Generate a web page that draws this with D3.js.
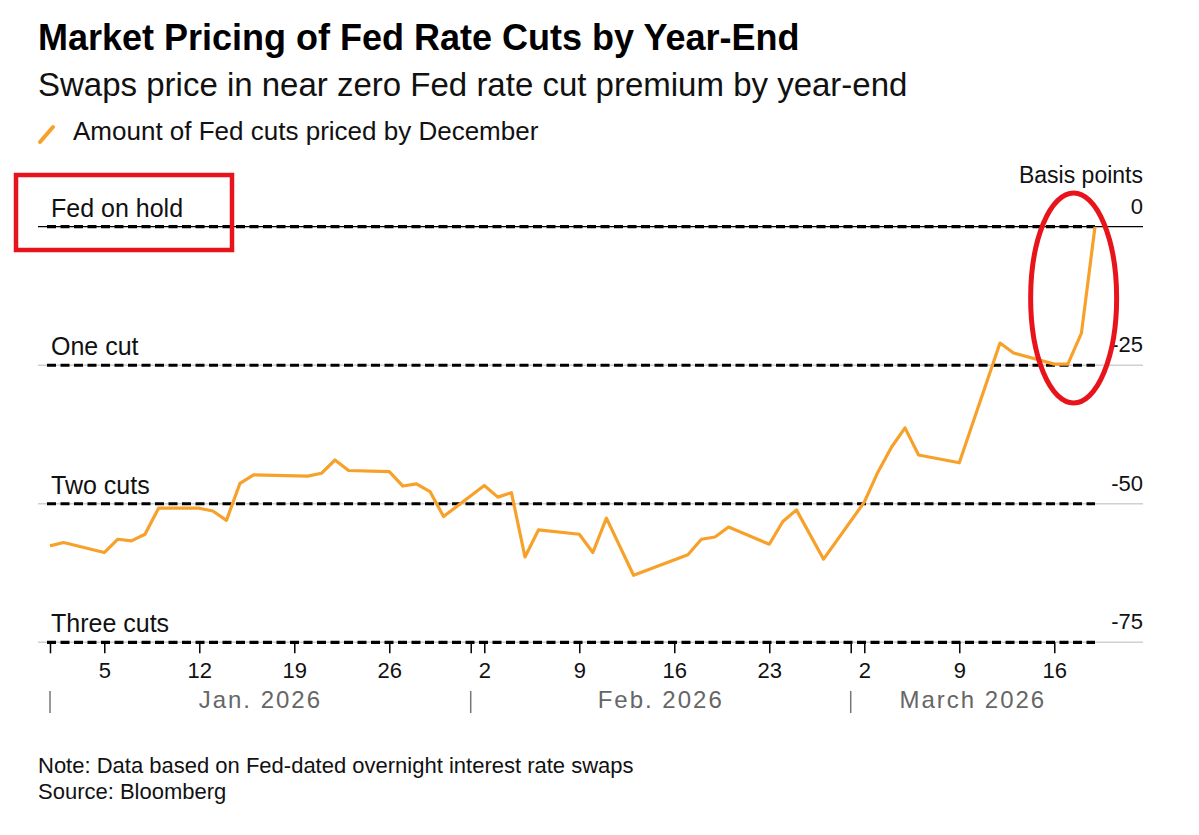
<!DOCTYPE html>
<html>
<head>
<meta charset="utf-8">
<script src="https://cdn.jsdelivr.net/npm/d3@7"></script>
<style>
  body { margin: 0; background: #fff; }
  svg text { font-family: "Liberation Sans", Arial, sans-serif; }
</style>
</head>
<body>
<div id="chart"></div>
<script>
// Swap-implied Fed cuts by December, basis points
const dates = [
  "2026-01-01", "2026-01-02", "2026-01-05", "2026-01-06", "2026-01-07", "2026-01-08", "2026-01-09",
  "2026-01-12", "2026-01-13", "2026-01-14", "2026-01-15", "2026-01-16",
  "2026-01-20", "2026-01-21", "2026-01-22", "2026-01-23",
  "2026-01-26", "2026-01-27", "2026-01-28", "2026-01-29", "2026-01-30",
  "2026-02-02", "2026-02-03", "2026-02-04", "2026-02-05", "2026-02-06",
  "2026-02-09", "2026-02-10", "2026-02-11", "2026-02-13",
  "2026-02-17", "2026-02-18", "2026-02-19", "2026-02-20",
  "2026-02-23", "2026-02-24", "2026-02-25", "2026-02-27",
  "2026-03-02", "2026-03-03", "2026-03-04", "2026-03-05", "2026-03-06",
  "2026-03-09", "2026-03-12", "2026-03-13",
  "2026-03-16", "2026-03-17", "2026-03-18", "2026-03-19"
];
const cutsPriced = [
  -57.6, -57.0, -58.8, -56.4, -56.7, -55.5, -50.8,
  -50.8, -51.3, -53.0, -46.3, -44.8,
  -45.0, -44.5, -42.1, -44.0,
  -44.2, -46.8, -46.4, -47.8, -52.3,
  -46.7, -48.8, -48.0, -59.6, -54.7,
  -55.5, -58.8, -52.6, -62.9,
  -59.2, -56.4, -56.0, -54.2,
  -57.3, -53.2, -51.1, -60.0,
  -49.7, -44.3, -39.8, -36.3, -41.2,
  -42.6, -21.0, -22.8,
  -24.8, -24.8, -19.2, 0
];

// Reference levels
const levelValues = [0, -25, -50, -75];
const levelLabels = ["Fed on hold", "One cut", "Two cuts", "Three cuts"];
const yTickLabels = ["0", "-25", "-50", "-75"];

// Bottom axis
const weekTicks = [
  "2026-01-01", "2026-01-05", "2026-01-12", "2026-01-19", "2026-01-26",
  "2026-02-01", "2026-02-02", "2026-02-09", "2026-02-16", "2026-02-23",
  "2026-03-01", "2026-03-02", "2026-03-09", "2026-03-16"
];
const monthStarts = ["2026-01-01", "2026-02-01", "2026-03-01"];
const monthLabels = ["Jan. 2026", "Feb. 2026", "March 2026"];

const width = 1199, height = 835;
const orange = "#f7a12b";
const red = "#e8141c";
const parse = d3.utcParse("%Y-%m-%d");

const data = dates.map((d, i) => ({ date: parse(d), value: cutsPriced[i] }));
const endDate = data[data.length - 1].date;

const svg = d3.select("#chart").append("svg")
  .attr("width", width)
  .attr("height", height);

const x = d3.scaleUtc()
  .domain([parse(dates[0]), endDate])
  .range([50, 1095]);

const y = d3.scaleLinear()
  .domain([-75, 0])
  .range([642.3, 226.7]);

// Header
svg.append("text")
  .attr("x", 38).attr("y", 50)
  .attr("font-size", 36).attr("font-weight", "bold").attr("fill", "#000")
  .text("Market Pricing of Fed Rate Cuts by Year-End");

svg.append("text")
  .attr("x", 38).attr("y", 96)
  .attr("font-size", 33).attr("fill", "#111")
  .text("Swaps price in near zero Fed rate cut premium by year-end");

svg.append("line")
  .attr("x1", 40).attr("y1", 142).attr("x2", 53).attr("y2", 127)
  .attr("stroke", orange).attr("stroke-width", 4).attr("stroke-linecap", "round");

svg.append("text")
  .attr("x", 73).attr("y", 140)
  .attr("font-size", 26).attr("fill", "#111")
  .text("Amount of Fed cuts priced by December");

// Y label heading
svg.append("text")
  .attr("x", 1143).attr("y", 183)
  .attr("text-anchor", "end").attr("font-size", 23).attr("fill", "#111")
  .text("Basis points");

// Horizontal gridlines
svg.selectAll(".grid")
  .data(levelValues)
  .enter().append("line")
  .attr("class", "grid")
  .attr("x1", 38).attr("x2", 1143)
  .attr("y1", d => y(d)).attr("y2", d => y(d))
  .attr("stroke", d => d === 0 ? "#000" : "#d0d0d0")
  .attr("stroke-width", d => d === 0 ? 1.3 : 1.6);

// Y value labels
svg.selectAll(".ylab")
  .data(levelValues)
  .enter().append("text")
  .attr("class", "ylab")
  .attr("x", 1143)
  .attr("y", d => y(d) - 13)
  .attr("text-anchor", "end").attr("font-size", 22).attr("fill", "#111")
  .text((d, i) => yTickLabels[i]);

// Dashed reference lines
svg.selectAll(".ref")
  .data(levelValues)
  .enter().append("line")
  .attr("class", "ref")
  .attr("x1", x.range()[0] - 3).attr("x2", x(endDate))
  .attr("y1", d => y(d)).attr("y2", d => y(d))
  .attr("stroke", "#000").attr("stroke-width", 3.2)
  .attr("stroke-dasharray", "9,4.5");

svg.selectAll(".reflab")
  .data(levelValues)
  .enter().append("text")
  .attr("class", "reflab")
  .attr("x", 51)
  .attr("y", d => y(d) - 10)
  .attr("font-size", 25).attr("fill", "#111")
  .text((d, i) => levelLabels[i]);

// Bottom axis
const isMonthStart = d => d.getUTCDate() === 1;
const xAxis = d3.axisBottom(x)
  .tickValues(weekTicks.map(parse))
  .tickSize(11)
  .tickFormat(d => isMonthStart(d) ? "" : d3.utcFormat("%-d")(d));

const axisG = svg.append("g")
  .attr("transform", `translate(0,${y(-75)})`)
  .call(xAxis);
axisG.select(".domain").remove();
axisG.selectAll(".tick line").attr("stroke", "#000").attr("stroke-width", 1.5);
axisG.selectAll(".tick text")
  .attr("y", 36).attr("dy", null)
  .attr("font-size", 22).attr("fill", "#111")
  .attr("font-family", "'Liberation Sans', Arial, sans-serif");

// Month separators and labels
const monthDates = monthStarts.map(parse);
svg.selectAll(".msep")
  .data(monthDates)
  .enter().append("line")
  .attr("class", "msep")
  .attr("x1", d => x(d)).attr("x2", d => x(d))
  .attr("y1", 691).attr("y2", 713)
  .attr("stroke", "#777").attr("stroke-width", 1.5);

svg.selectAll(".mlab")
  .data(monthDates)
  .enter().append("text")
  .attr("class", "mlab")
  .attr("x", (d, i) => {
    const next = i < monthDates.length - 1 ? monthDates[i + 1] : endDate;
    return (x(d) + x(next)) / 2;
  })
  .attr("y", 708)
  .attr("text-anchor", "middle")
  .attr("font-size", 24).attr("letter-spacing", 2).attr("fill", "#666")
  .text((d, i) => monthLabels[i]);

// Line series
const line = d3.line()
  .x(d => x(d.date))
  .y(d => y(d.value));

svg.append("path")
  .datum(data)
  .attr("fill", "none")
  .attr("stroke", orange)
  .attr("stroke-width", 3.2)
  .attr("stroke-linejoin", "round")
  .attr("d", line);

// Footer
svg.append("text")
  .attr("x", 38).attr("y", 773)
  .attr("font-size", 22).attr("fill", "#111")
  .text("Note: Data based on Fed-dated overnight interest rate swaps");

svg.append("text")
  .attr("x", 38).attr("y", 799)
  .attr("font-size", 22).attr("fill", "#111")
  .text("Source: Bloomberg");

// Red highlight annotations
svg.append("rect")
  .attr("x", 16).attr("y", 175)
  .attr("width", 216).attr("height", 75)
  .attr("fill", "none").attr("stroke", red).attr("stroke-width", 4.5);

const lastWeek = data.slice(-4);
const ex = d3.mean(lastWeek, d => x(d.date));
svg.append("ellipse")
  .attr("cx", ex - 1)
  .attr("cy", (y(0) + y(-25)) / 2 + 2)
  .attr("rx", 43)
  .attr("ry", 105)
  .attr("fill", "none").attr("stroke", red).attr("stroke-width", 5);
</script>
</body>
</html>
